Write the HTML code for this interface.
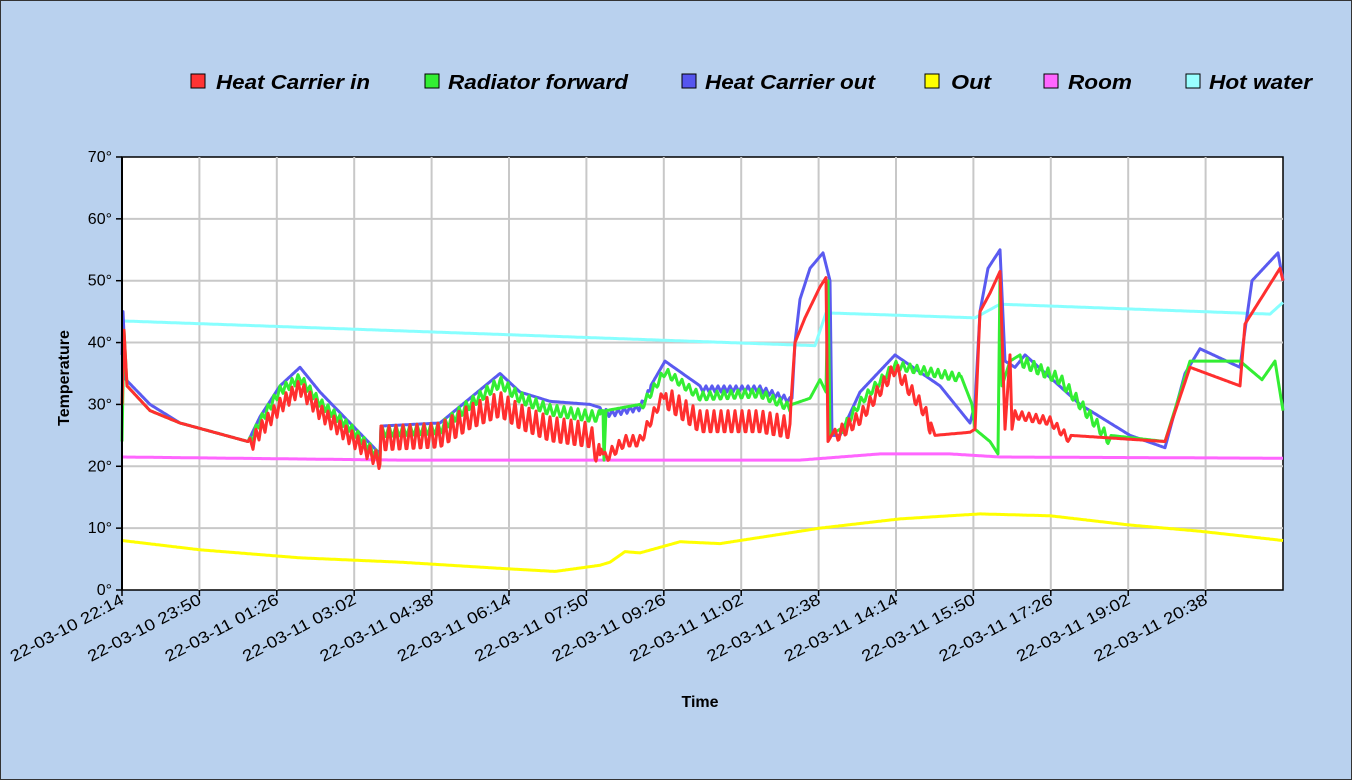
<!DOCTYPE html>
<html><head><meta charset="utf-8"><style>
html,body{margin:0;padding:0;background:#b9d1ee;}
svg{display:block;font-family:"Liberation Sans",Arial,sans-serif;}
</style></head><body>
<svg id="s" width="1352" height="780" xmlns="http://www.w3.org/2000/svg">
<rect x="0.5" y="0.5" width="1351" height="779" fill="#b9d1ee" stroke="#333" stroke-width="1"/>
<g font-size="20" font-weight="bold" font-style="italic" fill="#000">
<rect x="191" y="74" width="14" height="14" fill="#ff3333" stroke="#000"/><text x="216" y="89" textLength="154" lengthAdjust="spacingAndGlyphs">Heat Carrier in</text>
<rect x="425" y="74" width="14" height="14" fill="#33ee33" stroke="#000"/><text x="448" y="89" textLength="180" lengthAdjust="spacingAndGlyphs">Radiator forward</text>
<rect x="682" y="74" width="14" height="14" fill="#5555ee" stroke="#000"/><text x="705" y="89" textLength="170" lengthAdjust="spacingAndGlyphs">Heat Carrier out</text>
<rect x="925" y="74" width="14" height="14" fill="#ffff00" stroke="#000"/><text x="951" y="89" textLength="40" lengthAdjust="spacingAndGlyphs">Out</text>
<rect x="1044" y="74" width="14" height="14" fill="#ff66ff" stroke="#000"/><text x="1068" y="89" textLength="64" lengthAdjust="spacingAndGlyphs">Room</text>
<rect x="1186" y="74" width="14" height="14" fill="#99ffff" stroke="#000"/><text x="1209" y="89" textLength="103" lengthAdjust="spacingAndGlyphs">Hot water</text>
</g>
<rect x="122" y="157" width="1161" height="433" fill="#fff" stroke="#000" stroke-width="1.5"/>
<g id="grid" stroke="#c8c8c8" stroke-width="2"></g>
<g id="ticks" font-size="16" fill="#000"></g>
<g id="series" fill="none" stroke-width="3" stroke-linejoin="round"></g>
<line x1="122" y1="157" x2="122" y2="590" stroke="#000" stroke-width="2"/>
<text x="700" y="707" font-size="16" font-weight="bold" text-anchor="middle">Time</text>
<text transform="translate(69,378) rotate(-90)" font-size="16" font-weight="bold" text-anchor="middle">Temperature</text>
</svg>
<script>
var NS="http://www.w3.org/2000/svg";
function el(t,a,p,txt){var e=document.createElementNS(NS,t);for(var k in a)e.setAttribute(k,a[k]);if(txt)e.textContent=txt;p.appendChild(e);return e;}
function Y(t){return 590-t*6.186;}
var g=document.getElementById('grid'),tk=document.getElementById('ticks');
for(var i=1;i<7;i++){var y=Y(i*10);el('line',{x1:122,x2:1283,y1:y,y2:y},g);}
var labs=["22-03-10 22:14","22-03-10 23:50","22-03-11 01:26","22-03-11 03:02","22-03-11 04:38","22-03-11 06:14","22-03-11 07:50","22-03-11 09:26","22-03-11 11:02","22-03-11 12:38","22-03-11 14:14","22-03-11 15:50","22-03-11 17:26","22-03-11 19:02","22-03-11 20:38"];
for(var i=0;i<labs.length;i++){var x=122+i*77.4;if(i>0)el('line',{x1:x,x2:x,y1:157,y2:590},g);
el('line',{x1:x,x2:x,y1:590,y2:596,stroke:'#000','stroke-width':1.5},tk);
el('text',{transform:'translate('+(x+3)+',603) rotate(-28)','text-anchor':'end','font-size':16,textLength:126,lengthAdjust:'spacingAndGlyphs'},tk,labs[i]);}
for(var i=0;i<=7;i++){var y=Y(i*10);el('line',{x1:116,x2:122,y1:y,y2:y,stroke:'#000','stroke-width':1.5},tk);
el('text',{x:112,y:y+5,'text-anchor':'end'},tk,(i*10)+'°');}
function series(kp,saws,col){
var pts=[];
for(var j=0;j<kp.length-1;j++){var a=kp[j],b=kp[j+1];
 for(var x=a[0];x<b[0];x+=1){var v=a[1]+(b[1]-a[1])*(x-a[0])/(b[0]-a[0]);
  saws.forEach(function(s){if(x>=s[0]&&x<=s[1]){var ph=((x-s[0])%s[2])/s[2];v-=s[3]*(ph<0.5?ph*2:(1-ph)*2);}});
  pts.push(x.toFixed(1)+','+Y(v).toFixed(1));}
}
var l=kp[kp.length-1];pts.push(l[0]+','+Y(l[1]).toFixed(1));
el('polyline',{points:pts.join(' '),stroke:col},document.getElementById('series'));}
series([[122,43.5],[815,39.5],[826,44.8],[975,44],[1000,46.2],[1270,44.6],[1283,46.5]],[],'#88ffff');
series([[122,21.5],[400,21],[800,21],[880,22],[950,22],[1000,21.5],[1283,21.3]],[],'#ff66ff');
series([[122,8],[200,6.5],[300,5.2],[400,4.5],[500,3.5],[555,3],[600,4],[610,4.5],[625,6.2],[640,6],[680,7.8],[720,7.5],[820,10],[900,11.5],[980,12.3],[1050,12],[1130,10.5],[1200,9.5],[1283,8]],[],'#ffff00');
series([[122,38],[123,45],[126,34],[150,30],[180,27],[248,24],[260,28],[280,33],[300,36],[320,32],[350,27],[380,22],[381,26.5],[440,27],[470,31],[500,35],[520,32],[550,30.5],[590,30],[610,29],[640,30],[665,37],[700,33],[760,33],[792,31],[795,40],[800,47],[810,52],[823,54.5],[830,50],[832,25],[840,25],[860,32],[895,38],[940,33],[970,27],[975,30],[980,45],[988,52],[1000,55],[1005,37],[1015,36],[1025,38],[1080,30],[1130,25],[1165,23],[1185,35],[1200,39],[1240,36],[1245,42],[1252,50],[1278,54.5],[1283,50]],[[600,650,6,1],[700,790,6,1]],'#5a5af0');
series([[122,24],[124,42],[127,33],[150,29],[180,27],[248,24],[260,28],[280,33],[300,35],[320,31],[350,27],[380,22],[381,26.5],[440,27],[470,31],[500,34.5],[520,32],[550,30],[590,29],[603,29],[604,21],[606,29],[640,30],[665,36],[700,32],[760,32.5],[792,30],[810,31],[820,34],[826,32],[828,50],[830,25],[840,26],[860,31],[895,37],[960,35],[972,30],[975,26],[990,24],[998,22],[1000,51],[1002,33],[1010,37],[1020,38],[1060,35],[1110,25],[1165,24],[1190,37],[1240,37],[1262,34],[1275,37],[1283,29]],[[250,380,6,1.5],[382,600,7,2],[640,790,7,1.5],[840,960,7,1.5],[1020,1110,7,2]],'#33ee33');
series([[122,30],[124,42],[127,33],[150,29],[180,27],[248,24],[260,27],[280,31],[300,34],[320,30],[350,26],[380,22],[381,26.5],[440,27],[470,30],[500,32],[520,30],[550,28],[590,27],[603,22],[625,25],[640,25],[665,33],[700,29],[760,29],[790,28],[795,40],[805,44],[820,49],[826,50.5],[828,24],[835,26],[860,29],[895,37],[925,30],[935,25],[970,25.5],[975,26],[980,45],[990,48],[1000,51.5],[1005,26],[1010,38],[1012,26],[1015,29],[1050,28],[1070,25],[1165,24],[1190,36],[1240,33],[1245,43],[1280,52],[1283,50]],[[250,380,6,2.5],[382,600,7,4.5],[605,665,7,2],[665,790,7,4],[835,930,7,2.5],[1015,1070,7,1.5]],'#ff2f2f');
</script>
</body></html>
